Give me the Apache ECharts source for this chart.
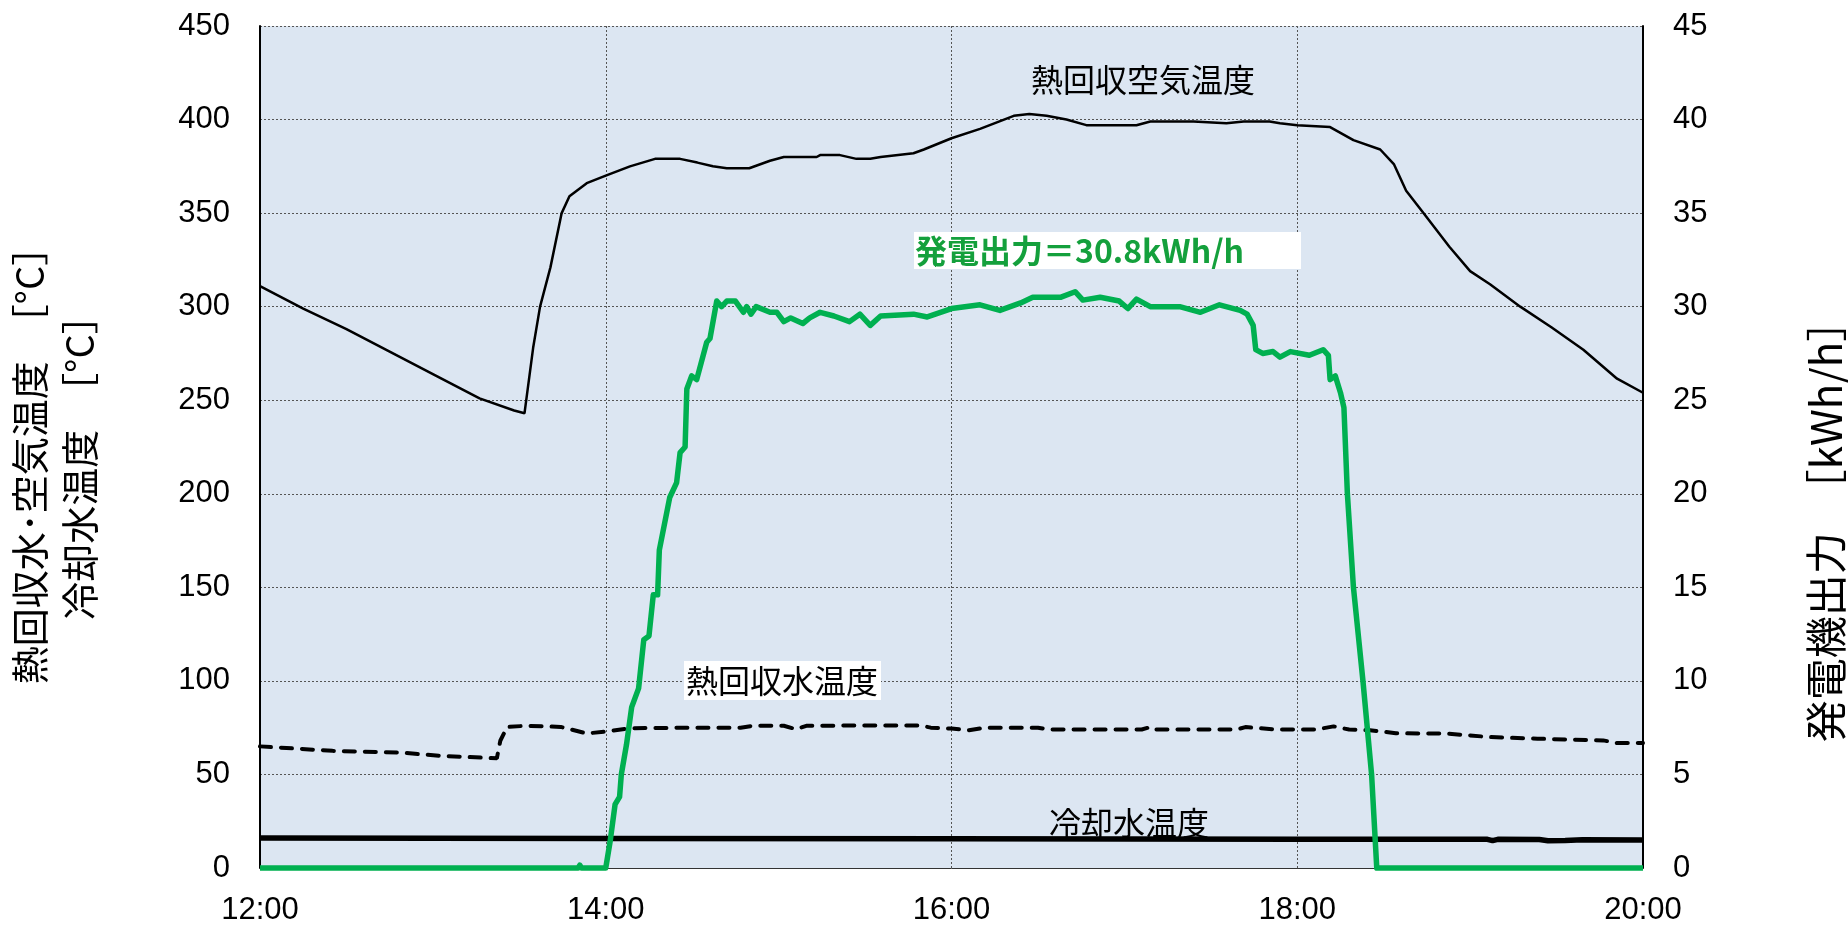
<!DOCTYPE html>
<html>
<head>
<meta charset="utf-8">
<title>発電機出力と温度</title>
<script src="https://cdn.jsdelivr.net/npm/echarts@6/dist/echarts.min.js"></script>
<style>
    html, body { margin: 0; padding: 0; background: #fff; }
    #main { width: 1848px; height: 927px; }
</style>
</head>
<body>
<div id="main"></div>
<script>
// time in decimal hours (12.5 = 12:30)
const airHours = [12.0, 12.25, 12.5, 12.75, 13.0, 13.27, 13.47, 13.53, 13.58, 13.62, 13.68, 13.745, 13.79, 13.89, 14.0, 14.14, 14.285, 14.43, 14.53, 14.62, 14.70, 14.83, 14.95, 15.03, 15.22, 15.24, 15.355, 15.45, 15.53, 15.59, 15.78, 15.84, 16.0, 16.165, 16.36, 16.45, 16.55, 16.665, 16.78, 17.07, 17.15, 17.40, 17.59, 17.69, 17.84, 17.90, 18.0, 18.19, 18.325, 18.48, 18.56, 18.63, 18.73, 18.88, 19.0, 19.115, 19.29, 19.47, 19.655, 19.85, 20.0]
const airTemp = [311, 299, 288, 276, 264, 251, 244.5, 243, 278, 300, 321, 350, 359, 366, 370, 375, 379, 379, 377, 375, 374, 374, 378, 380, 380, 381, 381, 379, 379, 380, 382, 384, 390, 395, 402, 403, 402, 400, 397, 397, 399, 399, 398, 399, 399, 398, 397, 396, 389, 384, 376, 362, 350, 332, 319, 312, 300, 289, 277, 261.5, 254]

const waterHours = [12.0, 12.42, 12.81, 13.04, 13.37, 13.39, 13.43, 13.54, 13.74, 13.89, 14.0, 14.14, 14.5, 14.78, 14.85, 15.03, 15.10, 15.16, 15.59, 15.82, 15.88, 16.0, 16.1, 16.19, 16.5, 16.56, 17.10, 17.15, 17.17, 17.65, 17.70, 17.88, 18.11, 18.21, 18.30, 18.42, 18.51, 18.57, 18.87, 19.11, 19.39, 19.77, 19.85, 20.0]
const waterTemp = [65, 62.6, 61.7, 60, 58.6, 68, 75.4, 76, 75.4, 71.9, 72.9, 74.7, 75, 75, 76, 76, 74.2, 76, 76.2, 76.2, 75, 74.5, 73.6, 75, 75, 74, 74, 75.3, 74, 74, 75.3, 74, 74, 75.7, 74, 73.6, 72.7, 72, 71.8, 70, 69.1, 68.2, 66.8, 66.8]

const coolHours = [12.0, 14.0, 16.0, 18.0, 19.1, 19.13, 19.16, 19.4, 19.45, 19.55, 19.65, 20.0]
const coolTemp = [16, 15.8, 15.6, 15.4, 15.3, 14.6, 15.3, 15.2, 14.6, 14.7, 15.1, 15]

const powerHours = [12.0, 13.84, 13.85, 13.86, 14.0, 14.025, 14.054, 14.08, 14.09, 14.12, 14.15, 14.19, 14.22, 14.25, 14.275, 14.30, 14.31, 14.37, 14.41, 14.43, 14.459, 14.469, 14.497, 14.526, 14.584, 14.603, 14.642, 14.67, 14.70, 14.75, 14.796, 14.815, 14.84, 14.87, 14.95, 14.99, 15.03, 15.07, 15.14, 15.18, 15.24, 15.32, 15.41, 15.47, 15.53, 15.59, 15.78, 15.86, 16.0, 16.165, 16.28, 16.40, 16.47, 16.63, 16.715, 16.76, 16.86, 16.97, 17.02, 17.07, 17.15, 17.32, 17.44, 17.55, 17.67, 17.71, 17.745, 17.76, 17.80, 17.86, 17.90, 17.96, 18.07, 18.15, 18.18, 18.19, 18.22, 18.25, 18.27, 18.29, 18.325, 18.38, 18.43, 18.46, 20.0]
const power = [0, 0, 0.15, 0, 0, 1.4, 3.4, 3.8, 5.0, 6.6, 8.6, 9.6, 12.2, 12.4, 14.6, 14.6, 17.0, 19.8, 20.6, 22.2, 22.5, 25.6, 26.3, 26.1, 28.1, 28.3, 30.3, 30.0, 30.3, 30.3, 29.7, 30.0, 29.6, 30.0, 29.7, 29.7, 29.2, 29.4, 29.1, 29.4, 29.7, 29.5, 29.2, 29.6, 29.0, 29.5, 29.6, 29.45, 29.9, 30.1, 29.8, 30.2, 30.5, 30.5, 30.8, 30.35, 30.5, 30.3, 29.9, 30.4, 30.0, 30.0, 29.7, 30.1, 29.8, 29.6, 29.0, 27.7, 27.5, 27.6, 27.3, 27.6, 27.4, 27.7, 27.4, 26.1, 26.3, 25.4, 24.6, 20.0, 15.0, 10.0, 5.0, 0, 0]

const pairs = (xs, ys) => xs.map((x, i) => [x, ys[i]])

const jp = '"Noto Sans CJK JP", sans-serif'
const num = '"Liberation Sans", Arial, sans-serif'
const green = '#00b050'

const myChart = echarts.init(document.getElementById('main'))

let option = {
    backgroundColor: '#fff',
    animation: false,
    grid: {
        left: 260,
        right: 205,
        top: 26,
        bottom: 59,
        show: true,
        backgroundColor: '#dce6f2',
        borderWidth: 0
    },
    xAxis: {
        type: 'value',
        min: 12,
        max: 20,
        interval: 2,
        axisLine: { show: true, lineStyle: { color: '#333', width: 1 } },
        axisTick: { show: false },
        axisLabel: {
            formatter: v => v + ':00',
            color: '#000',
            fontFamily: num,
            fontSize: 31,
            margin: 27
        },
        splitLine: { show: true, lineStyle: { color: '#555', width: 1, type: [2, 2] } }
    },
    yAxis: [
        {
            type: 'value',
            min: 0,
            max: 450,
            interval: 50,
            axisLine: { show: true, lineStyle: { color: '#000', width: 2 } },
            axisTick: { show: false },
            axisLabel: { color: '#000', fontFamily: num, fontSize: 31, margin: 30 },
            splitLine: { show: true, lineStyle: { color: '#555', width: 1, type: [2, 2] } }
        },
        {
            type: 'value',
            min: 0,
            max: 45,
            interval: 5,
            position: 'right',
            axisLine: { show: true, lineStyle: { color: '#000', width: 2 } },
            axisTick: { show: false },
            axisLabel: { color: '#000', fontFamily: num, fontSize: 31, margin: 30 },
            splitLine: { show: false }
        }
    ],
    series: [
        {
            name: '熱回収空気温度',
            type: 'line',
            yAxisIndex: 0,
            symbol: 'none',
            data: pairs(airHours, airTemp),
            lineStyle: { color: '#000', width: 2.5 }
        },
        {
            name: '熱回収水温度',
            type: 'line',
            yAxisIndex: 0,
            symbol: 'none',
            data: pairs(waterHours, waterTemp),
            lineStyle: { color: '#000', width: 4, type: [11, 10], cap: 'round' }
        },
        {
            name: '冷却水温度',
            type: 'line',
            yAxisIndex: 0,
            symbol: 'none',
            data: pairs(coolHours, coolTemp),
            lineStyle: { color: '#000', width: 5.5 }
        },
        {
            name: '発電機出力',
            type: 'line',
            yAxisIndex: 1,
            symbol: 'none',
            clip: false,
            data: pairs(powerHours, power),
            lineStyle: { color: green, width: 5.5, join: 'round' }
        }
    ],
    graphic: [
        {
            type: 'text', x: 30, y: 456, rotation: Math.PI / 2, z: 100,
            style: { text: '熱回収水･空気温度　［°C］', font: '38px ' + jp, fill: '#000', align: 'center', verticalAlign: 'middle' }
        },
        {
            type: 'text', x: 80, y: 458, rotation: Math.PI / 2, z: 100,
            style: { text: '冷却水温度　［°C］', font: '38px ' + jp, fill: '#000', align: 'center', verticalAlign: 'middle' }
        },
        {
            type: 'text', x: 1826, y: 521, rotation: Math.PI / 2, z: 100,
            style: { text: '発電機出力　［kWh/h］', font: '42px ' + jp, fill: '#000', align: 'center', verticalAlign: 'middle' }
        },
        {
            type: 'text', x: 1031, y: 80, z: 100,
            style: { text: '熱回収空気温度', font: '32px ' + jp, fill: '#000', align: 'left', verticalAlign: 'middle' }
        },
        {
            type: 'rect', z: 100,
            shape: { x: 914, y: 232, width: 387, height: 37 },
            style: { fill: '#fff' }
        },
        {
            type: 'text', x: 915, y: 251, z: 101,
            style: { text: '発電出力＝30.8kWh/h', font: 'bold 32px ' + jp, fill: '#14a03c', align: 'left', verticalAlign: 'middle' }
        },
        {
            type: 'rect', z: 100,
            shape: { x: 684, y: 661, width: 197, height: 39 },
            style: { fill: '#fff' }
        },
        {
            type: 'text', x: 686, y: 681, z: 101,
            style: { text: '熱回収水温度', font: '32px ' + jp, fill: '#000', align: 'left', verticalAlign: 'middle' }
        },
        {
            type: 'text', x: 1049, y: 823, z: 100,
            style: { text: '冷却水温度', font: '32px ' + jp, fill: '#000', align: 'left', verticalAlign: 'middle' }
        }
    ]
};

myChart.setOption(option)
window.addEventListener('resize', function () {
    myChart.resize();
});
</script>
</body>
</html>
